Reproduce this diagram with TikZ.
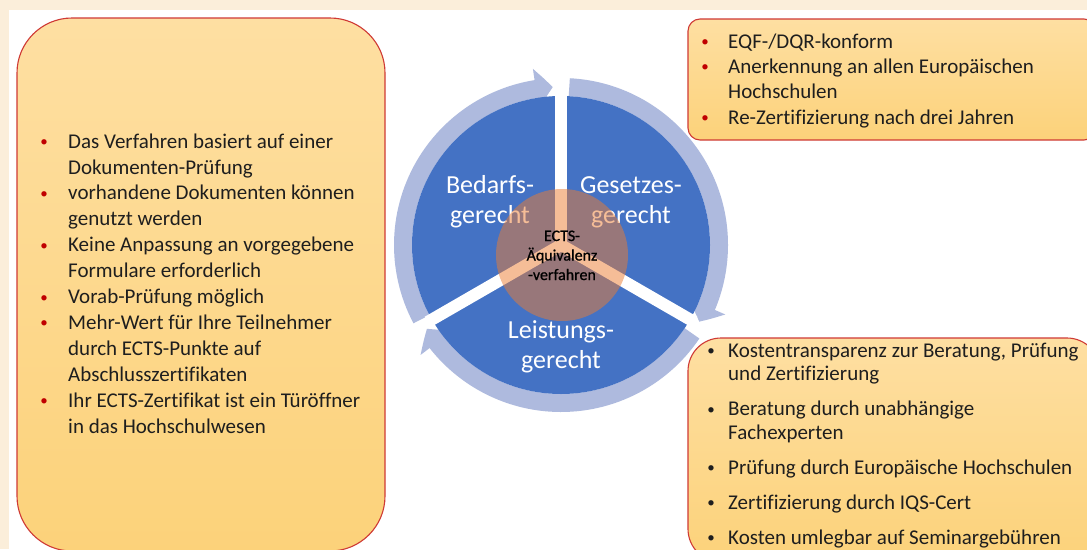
\documentclass[tikz,border=0pt]{standalone}
\usepackage{fontspec}
\setmainfont{Carlito}[Ligatures=NoCommon]
\newfontfamily\hubfont{Carlito}[Ligatures=NoCommon, FakeBold=0.8]
\usetikzlibrary{arrows.meta,bending}
\definecolor{creambg}{HTML}{FBEEDA}
\definecolor{boxtop}{HTML}{FEDFA2}
\definecolor{boxbot}{HTML}{FCD27A}
\definecolor{boxline}{HTML}{CF3A35}
\definecolor{bulred}{HTML}{C00000}
\definecolor{discblue}{HTML}{4472C4}
\definecolor{ringblue}{HTML}{AEBADE}
\definecolor{hubor}{HTML}{ED7D31}
\definecolor{txtdark}{HTML}{1E1E1E}
\newcommand{\bul}[2]{\llap{\makebox[#1][c]{\raisebox{1.5pt}{\textcolor{#2}{\fontsize{15}{15}\selectfont\textbullet}}}}}
\tikzset{
  infobox/.style={draw=boxline, line width=1.1pt, top color=boxtop, bottom color=boxbot},
  listtxt/.style={anchor=base west, align=left, inner sep=0pt, text=txtdark},
  ringarc/.style={ringblue, line width=18pt, -{Triangle[length=17pt,width=40pt,bend]}},
  sectlbl/.style={anchor=base, text=white, align=center, inner sep=0pt, font=\fontsize{26}{30}\selectfont},
}
\begin{document}
\begin{tikzpicture}[x=1pt,y=1pt]
  \useasboundingbox (0,0) rectangle (1087,-549);
  \clip (0,0) rectangle (1087,-549);
  \fill[creambg] (0,0) rectangle (1087,-549);
  \fill[white] (9,-10) rectangle (1087,-549);
  % text boxes
  \draw[infobox, rounded corners=55pt] (17,-18) rectangle (385,-551);
  \draw[infobox, rounded corners=12pt] (688,-19) rectangle (1096,-140);
  \draw[infobox, rounded corners=33pt] (688,-338) rectangle (1100,-562);
  % cycle
  \coordinate (hub) at (561,-245);
  \draw[ringarc] ([shift={(208:158)}]hub) arc[start angle=208, end angle=93, radius=158];
  \draw[ringarc] ([shift={(87:158)}]hub) arc[start angle=87, end angle=-29, radius=158];
  \draw[ringarc] ([shift={(-34:158)}]hub) arc[start angle=-34, end angle=-148, radius=158];
  \fill[discblue] (hub) circle[radius=149];
  \foreach \a in {90,210,330}
    \draw[white, line width=12pt] (hub) -- ++(\a:154);
  \node[sectlbl] (bedarf) at (490,-223) {Bedarfs-\\gerecht};
  \node[sectlbl] (gesetz) at (631,-223) {Gesetzes-\\gerecht};
  \node[sectlbl] (leist) at (561,-368) {Leistungs-\\gerecht};
  \fill[hubor, opacity=0.5] (562,-255) circle[radius=66];
  \node[anchor=base, align=center, inner sep=0pt, text=black, font=\hubfont\fontsize{16}{19.5}\selectfont] (ects) at (562,-280) {ECTS-\\Äquivalenz\\-verfahren};
  % lists
  \node[listtxt, font=\fontsize{21}{25.9}\selectfont] (vorteile) at (68,-433)
    {\bul{48pt}{bulred}Das Verfahren basiert auf einer\\
     Dokumenten-Prüfung\\
     \bul{48pt}{bulred}vorhandene Dokumenten können\\
     genutzt werden\\
     \bul{48pt}{bulred}Keine Anpassung an vorgegebene\\
     Formulare erforderlich\\
     \bul{48pt}{bulred}Vorab-Prüfung möglich\\
     \bul{48pt}{bulred}Mehr-Wert für Ihre Teilnehmer\\
     durch ECTS-Punkte auf\\
     Abschlusszertifikaten\\
     \bul{48pt}{bulred}Ihr ECTS-Zertifikat ist ein Türöffner\\
     in das Hochschulwesen};
  \node[listtxt, font=\fontsize{21}{25.3}\selectfont] (konform) at (728,-124)
    {\bul{46pt}{bulred}EQF-/DQR-konform\\
     \bul{46pt}{bulred}Anerkennung an allen Europäischen\\
     Hochschulen\\
     \bul{46pt}{bulred}Re-Zertifizierung nach drei Jahren};
  \node[listtxt, font=\fontsize{21}{23.5}\selectfont] (kosten) at (728,-544)
    {\bul{34pt}{txtdark}Kostentransparenz zur Beratung, Prüfung\\
     und Zertifizierung\\[11.5pt]
     \bul{34pt}{txtdark}Beratung durch unabhängige\\
     Fachexperten\\[11.5pt]
     \bul{34pt}{txtdark}Prüfung durch Europäische Hochschulen\\[11.5pt]
     \bul{34pt}{txtdark}Zertifizierung durch IQS-Cert\\[11.5pt]
     \bul{34pt}{txtdark}Kosten umlegbar auf Seminargebühren};
\end{tikzpicture}
\end{document}
